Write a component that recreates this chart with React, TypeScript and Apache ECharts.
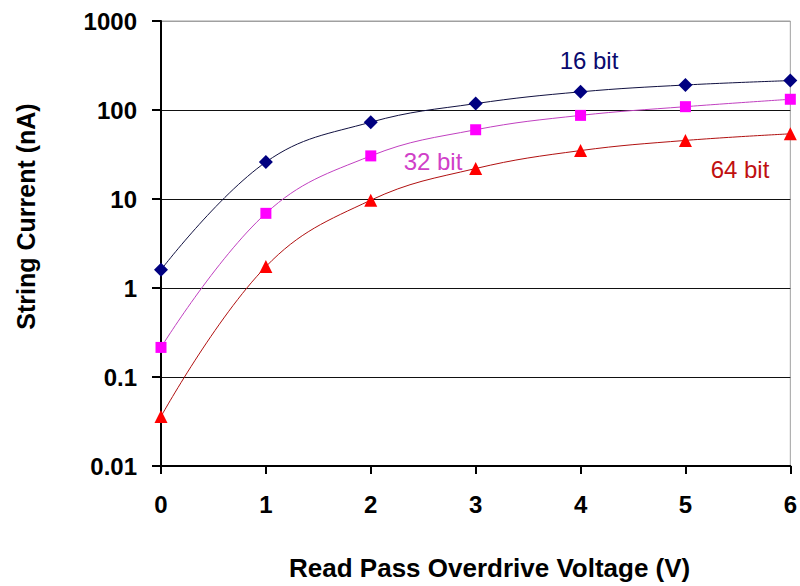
import React, { useEffect, useRef } from "react";
import * as echarts from "echarts";

const voltages = [0, 1, 2, 3, 4, 5, 6];
const current16 = [1.6, 26, 73, 118, 160, 191, 214];
const current32 = [0.215, 6.9, 30.5, 60, 87, 109, 132];
const current64 = [0.036, 1.74, 9.7, 22, 35, 45.5, 54];
const yTickLabels = ["0.01", "0.1", "1", "10", "100", "1000"];
const seriesNames = ["16 bit", "32 bit", "64 bit"];

const FONT = "'Liberation Sans', Arial, sans-serif";

export default function App() {
  const ref = useRef<HTMLDivElement>(null);
  useEffect(() => {
    if (!ref.current) return;
    const chart = echarts.init(ref.current, undefined, { renderer: "svg" });
    const pairs = (ys: number[]) => voltages.map((x, i) => [x, ys[i]]);
    chart.setOption({
      animation: false,
      backgroundColor: "#ffffff",
      grid: {
        left: 161,
        right: 7,
        top: 21,
        bottom: 118,
        show: true,
        borderColor: "#a0a0a0",
        borderWidth: 1,
      },
      xAxis: {
        type: "value",
        min: 0,
        max: 6,
        interval: 1,
        name: "Read Pass Overdrive Voltage (V)",
        nameLocation: "middle",
        nameGap: 89,
        nameTextStyle: {
          fontFamily: FONT,
          fontWeight: "bold",
          fontSize: 26,
          color: "#000",
          padding: [0, 0, 0, 28],
        },
        axisLine: { show: true, lineStyle: { color: "#000", width: 2 } },
        axisTick: { show: true, inside: false, length: 8, lineStyle: { color: "#000", width: 2 } },
        axisLabel: {
          margin: 26,
          fontFamily: FONT,
          fontWeight: "bold",
          fontSize: 24,
          color: "#000",
        },
        splitLine: { show: false },
      },
      yAxis: {
        type: "log",
        logBase: 10,
        min: 0.01,
        max: 1000,
        name: "String Current (nA)",
        nameLocation: "middle",
        nameGap: 123,
        nameTextStyle: {
          fontFamily: FONT,
          fontWeight: "bold",
          fontSize: 25,
          color: "#000",
          padding: [0, 0, 0, 54],
        },
        axisLine: { show: true, lineStyle: { color: "#000", width: 2 } },
        axisTick: { show: true, inside: false, length: 9, lineStyle: { color: "#000", width: 2 } },
        axisLabel: {
          margin: 24,
          fontFamily: FONT,
          fontWeight: "bold",
          fontSize: 24,
          color: "#000",
          formatter: (v: number) => yTickLabels[Math.round(Math.log10(v)) + 2],
        },
        splitLine: {
          show: true,
          lineStyle: {
            color: ["#000", "#111", "#111", "#111", "#111", "#a0a0a0"],
            width: 1.2,
          },
        },
        minorTick: { show: false },
      },
      series: [
        {
          name: seriesNames[0],
          type: "line",
          data: pairs(current16),
          smooth: 0.4,
          symbol: "diamond",
          symbolSize: 14,
          itemStyle: { color: "#000080" },
          lineStyle: { color: "#101040", width: 1 },
          z: 3,
        },
        {
          name: seriesNames[1],
          type: "line",
          data: pairs(current32),
          smooth: 0.4,
          symbol: "rect",
          symbolSize: 11,
          itemStyle: { color: "#ff00ff" },
          lineStyle: { color: "#c040c0", width: 1 },
          z: 3,
        },
        {
          name: seriesNames[2],
          type: "line",
          data: pairs(current64),
          smooth: 0.4,
          symbol: "triangle",
          symbolSize: 13,
          itemStyle: { color: "#ff0000" },
          lineStyle: { color: "#b01010", width: 1 },
          z: 3,
        },
      ],
      graphic: [
        {
          type: "text",
          x: 589,
          y: 60,
          style: {
            text: seriesNames[0],
            fontFamily: FONT,
            fontSize: 24,
            fill: "#0a0a6e",
            align: "center",
            verticalAlign: "middle",
          },
          z: 10,
        },
        {
          type: "text",
          x: 433,
          y: 161,
          style: {
            text: seriesNames[1],
            fontFamily: FONT,
            fontSize: 24,
            fill: "#d040c8",
            align: "center",
            verticalAlign: "middle",
          },
          z: 10,
        },
        {
          type: "text",
          x: 740,
          y: 169,
          style: {
            text: seriesNames[2],
            fontFamily: FONT,
            fontSize: 24,
            fill: "#c01010",
            align: "center",
            verticalAlign: "middle",
          },
          z: 10,
        },
      ],
    });
    return () => chart.dispose();
  }, []);
  return (
    <div
      ref={ref}
      style={{ position: "fixed", left: 0, top: 0, width: 800, height: 586, background: "#fff" }}
    />
  );
}
